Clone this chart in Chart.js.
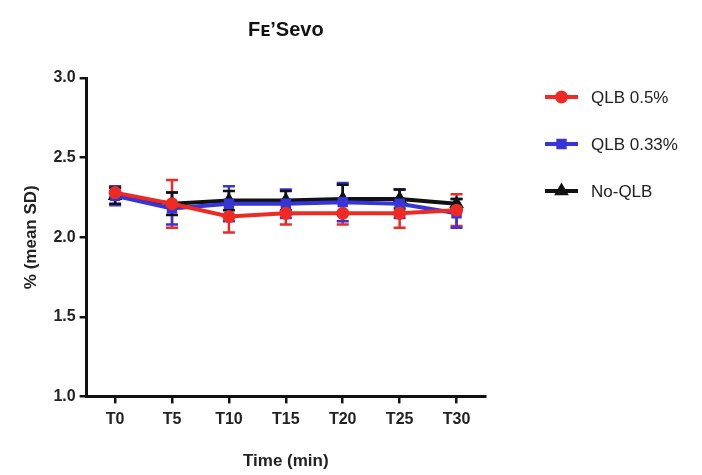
<!DOCTYPE html>
<html>
<head>
<meta charset="utf-8">
<script src="https://cdn.jsdelivr.net/npm/chart.js@4.4.1/dist/chart.umd.min.js"></script>
<style>
  html, body { margin: 0; padding: 0; background: #fff; }
  #wrap { width: 702px; height: 475px; }
</style>
</head>
<body>
<div id="wrap"><canvas id="chart" width="702" height="475"></canvas></div>
<script>
// Time points
const timeLabels = ['T0', 'T5', 'T10', 'T15', 'T20', 'T25', 'T30'];

// Means
const qlb05Mean = [2.28, 2.21, 2.13, 2.15, 2.15, 2.15, 2.17];
const qlb033Mean = [2.26, 2.18, 2.21, 2.21, 2.22, 2.21, 2.15];
const noQlbMean = [2.26, 2.21, 2.23, 2.23, 2.24, 2.24, 2.21];

// Standard deviations
const qlb05Sd = [0.03, 0.15, 0.10, 0.07, 0.07, 0.09, 0.10];
const qlb033Sd = [0.06, 0.10, 0.11, 0.09, 0.12, 0.09, 0.09];
const noQlbSd = [0.05, 0.07, 0.06, 0.06, 0.09, 0.06, 0.03];

const yTicks = [1.0, 1.5, 2.0, 2.5, 3.0];

const seriesColors = {
    red: '#ee2a24',
    blue: '#3535d8',
    black: '#111111'
};

const fontFamily = '"Liberation Sans", Arial, Helvetica, sans-serif';
const chartTitle = 'Fᴇ’Sevo';

// Error bars drawn through the chart's own scales
const errorBarPlugin = {
    id: 'errorBars',
    beforeDatasetsDraw(chart) {
        const ctx = chart.ctx;
        const x = chart.scales.x;
        const y = chart.scales.y;
        chart.data.datasets.forEach(ds => {
            ctx.save();
            ctx.strokeStyle = ds.borderColor;
            ctx.lineWidth = 2.5;
            ds.data.forEach((v, i) => {
                const sd = ds.sd[i];
                const px = x.getPixelForValue(i);
                const top = y.getPixelForValue(v + sd);
                const bot = y.getPixelForValue(v - sd);
                ctx.beginPath();
                ctx.moveTo(px, top);
                ctx.lineTo(px, bot);
                ctx.moveTo(px - 6, top);
                ctx.lineTo(px + 6, top);
                ctx.moveTo(px - 6, bot);
                ctx.lineTo(px + 6, bot);
                ctx.stroke();
            });
            ctx.restore();
        });
    }
};

// Title centred over the plot area, legend with line + marker on the right
const sideLegendPlugin = {
    id: 'sideLegend',
    afterDraw(chart) {
        const ctx = chart.ctx;
        const area = chart.chartArea;

        ctx.save();
        ctx.fillStyle = '#111';
        ctx.font = 'bold 20px ' + fontFamily;
        ctx.textAlign = 'center';
        ctx.textBaseline = 'middle';
        ctx.fillText(chartTitle, (area.left + area.right) / 2, 30);
        ctx.restore();

        const left = area.right + 60;
        let rowY = 97;
        chart.data.datasets.forEach(ds => {
            ctx.save();
            ctx.strokeStyle = ds.borderColor;
            ctx.fillStyle = ds.borderColor;
            ctx.lineWidth = 4;
            ctx.beginPath();
            ctx.moveTo(left, rowY);
            ctx.lineTo(left + 33, rowY);
            ctx.stroke();
            Chart.helpers.drawPoint(ctx, {
                pointStyle: ds.pointStyle,
                radius: 4.5,
                rotation: 0,
                borderWidth: 1
            }, left + 16.5, rowY);
            ctx.fillStyle = '#222';
            ctx.font = '17px ' + fontFamily;
            ctx.textBaseline = 'middle';
            ctx.fillText(ds.label, left + 46, rowY + 1);
            ctx.restore();
            rowY += 47;
        });
    }
};

function makeDataset(label, data, sd, color, pointStyle) {
    return {
        label: label,
        data: data,
        sd: sd,
        borderColor: color,
        backgroundColor: color,
        pointBackgroundColor: color,
        pointBorderColor: color,
        pointStyle: pointStyle,
        pointRadius: 4.5,
        borderWidth: 4,
        tension: 0,
        fill: false
    };
}

new Chart(document.getElementById('chart'), {
    type: 'line',
    data: {
        labels: timeLabels,
        datasets: [
            makeDataset('QLB 0.5%', qlb05Mean, qlb05Sd, seriesColors.red, 'circle'),
            makeDataset('QLB 0.33%', qlb033Mean, qlb033Sd, seriesColors.blue, 'rect'),
            makeDataset('No-QLB', noQlbMean, noQlbSd, seriesColors.black, 'triangle')
        ]
    },
    options: {
        responsive: false,
        animation: false,
        layout: {
            padding: { top: 78, right: 217, bottom: 3, left: 21 }
        },
        plugins: {
            legend: { display: false },
            tooltip: { enabled: false },
            title: { display: false }
        },
        scales: {
            x: {
                type: 'category',
                offset: true,
                border: { display: true, color: '#111', width: 3 },
                grid: {
                    display: true,
                    drawOnChartArea: false,
                    drawTicks: true,
                    tickLength: 7,
                    color: '#111',
                    lineWidth: 2.5,
                    offset: false
                },
                ticks: {
                    color: '#222',
                    padding: 7,
                    font: { family: fontFamily, size: 16, weight: 'bold' }
                },
                title: {
                    display: true,
                    text: 'Time (min)',
                    color: '#222',
                    padding: { top: 15, bottom: 0 },
                    font: { family: fontFamily, size: 17, weight: 'bold' }
                }
            },
            y: {
                min: 1.0,
                max: 3.0,
                afterBuildTicks(axis) {
                    axis.ticks = yTicks.map(v => ({ value: v }));
                },
                border: { display: true, color: '#111', width: 3 },
                grid: {
                    display: true,
                    drawOnChartArea: false,
                    drawTicks: true,
                    tickLength: 7,
                    color: '#111',
                    lineWidth: 2.5
                },
                ticks: {
                    color: '#222',
                    padding: 4,
                    callback: v => Number(v).toFixed(1),
                    font: { family: fontFamily, size: 16, weight: 'bold' }
                },
                title: {
                    display: true,
                    text: '% (mean SD)',
                    color: '#222',
                    padding: { top: 0, bottom: 8 },
                    font: { family: fontFamily, size: 17, weight: 'bold' }
                }
            }
        }
    },
    plugins: [errorBarPlugin, sideLegendPlugin]
});
</script>
</body>
</html>
